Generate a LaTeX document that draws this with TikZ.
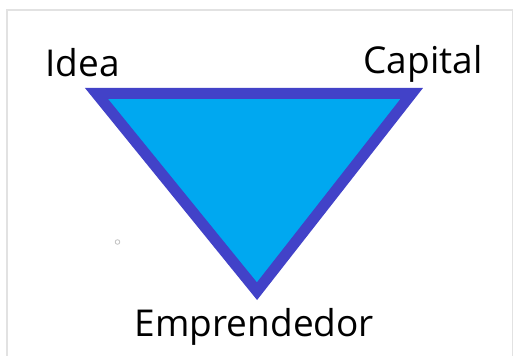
\documentclass[tikz,border=0pt]{standalone}
\usepackage{fontspec}
\setmainfont{Open Sans}
\usepackage{xcolor}
\definecolor{triFill}{RGB}{0,168,240}
\definecolor{triEdge}{RGB}{66,66,200}
\definecolor{frameGray}{RGB}{226,226,226}
\tikzset{
  cornerlabel/.style={anchor=base,inner sep=0pt,font=\fontsize{18.5}{22}\selectfont},
}

\begin{document}
\begin{tikzpicture}[x=0.5pt,y=-0.5pt,line join=miter]
  \useasboundingbox (0,0) rectangle (516,356);
  % light frame, open at the bottom
  \draw[frameGray,line width=0.8pt] (7,356)--(7,10)--(512.5,10)--(512.5,356);
  % corners of the inverted triangle (centre of the edge line)
  \coordinate (ideaC) at (96.5,93.5);
  \coordinate (capC)  at (411.7,93.5);
  \coordinate (empC)  at (257,291.2);
  \filldraw[fill=triFill,draw=triEdge,line width=5.5pt] (ideaC)--(capC)--(empC)--cycle;
  % labels at the corners
  \node[cornerlabel] (idea) at (82.5,77)  {Idea};
  \node[cornerlabel] (cap)  at (423,74)   {Capital};
  \node[cornerlabel] (emp)  at (254.5,337) {Emprendedor};
  % small stray mark
  \draw[gray!50,line width=0.4pt] (117.5,242) circle (2.3);
\end{tikzpicture}
\end{document}
